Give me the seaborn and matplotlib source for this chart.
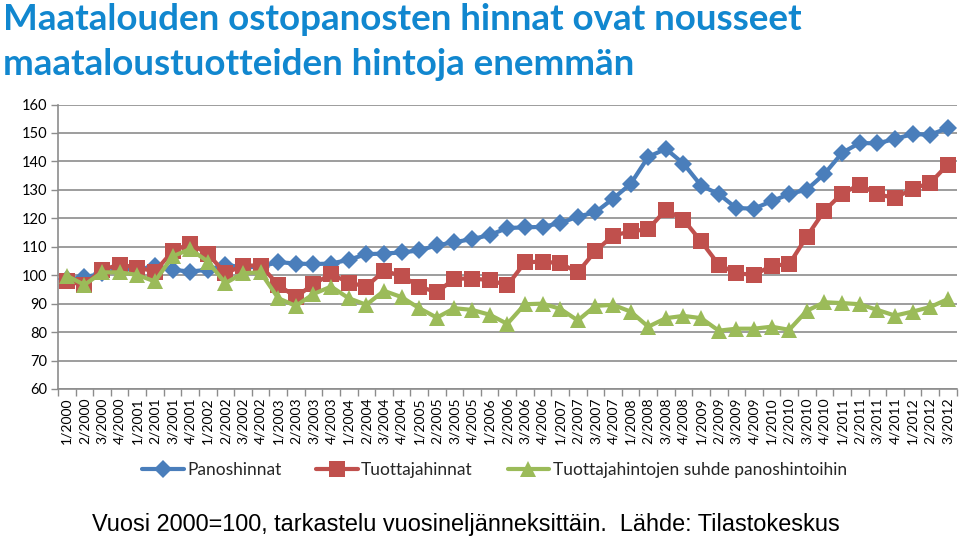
import numpy as np
import pandas as pd
import matplotlib
matplotlib.use("Agg")
import matplotlib.pyplot as plt
import seaborn as sns
from matplotlib.lines import Line2D
from matplotlib.ticker import MultipleLocator, FixedLocator

quarters = [f"{q}/{y}" for y in range(2000, 2013) for q in range(1, 5)][:51]

panoshinnat = [98.5, 99.2, 100.7, 102.0, 102.0, 103.1, 101.9, 101.3, 101.9, 103.7,
               102.7, 103.0, 104.6, 104.1, 103.9, 104.1, 105.4, 107.4, 107.6, 108.0,
               108.7, 110.5, 111.6, 112.7, 114.1, 116.6, 116.8, 117.0, 118.3, 120.6,
               122.1, 126.9, 132.1, 141.6, 144.4, 139.2, 131.5, 128.5, 123.6, 123.4,
               126.0, 128.5, 130.1, 135.6, 143.0, 146.5, 146.3, 147.9, 149.6, 149.4,
               151.7]
tuottajahinnat = [97.8, 96.6, 101.9, 103.7, 102.7, 101.3, 108.4, 111.1, 107.5, 100.7,
                  103.4, 103.4, 96.6, 92.3, 96.9, 100.4, 97.4, 96.0, 101.5, 99.8,
                  96.0, 94.0, 98.8, 98.8, 98.3, 96.4, 104.5, 104.8, 104.2, 101.0,
                  108.5, 113.9, 115.4, 116.2, 123.0, 119.5, 111.9, 103.7, 100.7, 100.1,
                  103.3, 103.9, 113.6, 122.7, 128.7, 131.8, 128.5, 127.1, 130.4, 132.4,
                  138.9]
suhde = [99.8, 96.6, 101.0, 101.0, 100.1, 97.8, 106.6, 109.2, 104.8, 97.2,
         100.7, 101.0, 91.9, 89.2, 93.4, 96.0, 91.9, 89.6, 94.5, 92.3,
         88.4, 85.1, 88.4, 87.8, 86.1, 82.9, 89.8, 90.0, 88.2, 84.1,
         89.2, 89.6, 87.2, 81.9, 84.9, 85.7, 84.9, 80.5, 81.2, 81.2,
         81.9, 80.8, 87.5, 90.5, 90.2, 89.8, 87.8, 85.8, 87.2, 88.8,
         91.6]

series_names = ["Panoshinnat", "Tuottajahinnat", "Tuottajahintojen suhde panoshintoihin"]
colors = ["#4A7EBB", "#C0504D", "#9BBB59"]
markers = ["D", "s", "^"]
msizes = [9, 11, 12]

title_lines = ["Maatalouden ostopanosten hinnat ovat nousseet",
               "maataloustuotteiden hintoja enemmän"]
subtitle = "Vuosi 2000=100, tarkastelu vuosineljänneksittäin.  Lähde: Tilastokeskus"

sns.set_theme(style="white")
plt.rcParams["font.family"] = ["Lato", "DejaVu Sans"]

W, H = 960, 539
fig = plt.figure(figsize=(W / 100, H / 100), dpi=100)
ax = fig.add_axes([58 / W, 1 - 389 / H, (956.6 - 58) / W, (389 - 104.5) / H])

x = np.arange(len(quarters))
for vals, name, c, m, ms in zip([panoshinnat, tuottajahinnat, suhde], series_names, colors, markers, msizes):
    df = pd.DataFrame({"x": x, "y": vals})
    sns.lineplot(data=df, x="x", y="y", ax=ax, color=c, linewidth=3,
                 marker=m, markersize=ms, markeredgewidth=0, zorder=3)

ax.set_xlim(-0.5, len(quarters) - 0.5)
ax.set_ylim(60, 160)
ax.yaxis.set_major_locator(MultipleLocator(10))
ax.grid(axis="y", color="#8c8c8c", linewidth=1.2)
ax.set_axisbelow(True)
ax.set_xlabel("")
ax.set_ylabel("")

ax.set_xticks(x)
ax.set_xticklabels(quarters, rotation=90, fontsize=10, color="black")
ax.xaxis.set_minor_locator(FixedLocator(np.arange(-0.5, len(quarters) + 0.5, 1)))
ax.tick_params(axis="x", which="major", length=0, pad=6)
ax.tick_params(axis="x", which="minor", length=5, width=1, color="#8c8c8c", bottom=True)
ax.tick_params(axis="y", length=5, width=1, color="#8c8c8c", left=True, labelsize=10.5,
               labelcolor="black", pad=3)
for s in ["top", "right"]:
    ax.spines[s].set_visible(False)
ax.spines["left"].set_color("#8c8c8c")
ax.spines["bottom"].set_color("#8c8c8c")
ax.spines["left"].set_linewidth(1.2)
ax.spines["bottom"].set_linewidth(1.2)

handles = [Line2D([0], [0], color=c, linewidth=3, marker=m, markersize=ms, markeredgewidth=0)
           for c, m, ms in zip(colors, markers, msizes)]
fig.legend(handles, series_names, loc="center", bbox_to_anchor=(0.515, 1 - 470 / H), ncol=3,
           frameon=False, fontsize=12.5, handlelength=2.4, handletextpad=0.2, columnspacing=2.0)

fig.text(3 / W, 1 - 30 / H, title_lines[0], fontsize=26.5, fontweight="bold", color="#1187CF",
         ha="left", va="baseline")
fig.text(3 / W, 1 - 75 / H, title_lines[1], fontsize=26.5, fontweight="bold", color="#1187CF",
         ha="left", va="baseline")
fig.text(92 / W, 1 - 531 / H, subtitle, fontsize=16.9, family="Liberation Sans", color="black",
         ha="left", va="baseline")

fig.savefig("out.png", dpi=100)
